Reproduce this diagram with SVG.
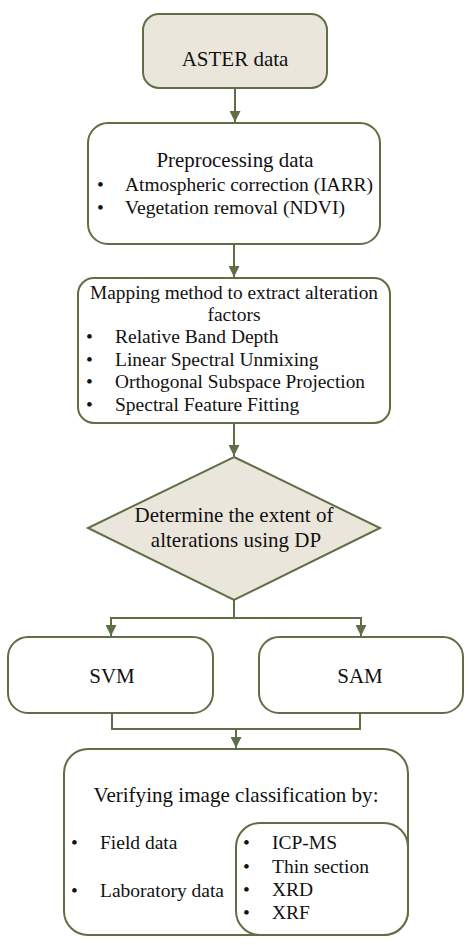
<svg xmlns="http://www.w3.org/2000/svg" width="474" height="945" viewBox="0 0 474 945">
<style>
.b{fill:#fff;stroke:#5f6e45;stroke-width:2}
.f{fill:#ebe6dc;stroke:#5f6e45;stroke-width:2}
.c{fill:none;stroke:#5f6e45;stroke-width:2}
text{font-family:"Liberation Serif","Times New Roman",serif;font-size:19.5px;fill:#111}
.m{text-anchor:middle}
.t{font-size:21px}
</style>
<defs>
<marker id="ah" viewBox="0 0 10 10" refX="10" refY="5" markerWidth="11" markerHeight="11" markerUnits="userSpaceOnUse" orient="auto">
<path d="M0,0 L10,5 L0,10 Z" fill="#5f6e45"/>
</marker>
</defs>
<rect width="474" height="945" fill="#fff"/>
<g id="connectors">
<line class="c" x1="235" y1="88" x2="235" y2="122" marker-end="url(#ah)"/>
<line class="c" x1="234" y1="244" x2="234" y2="277" marker-end="url(#ah)"/>
<line class="c" x1="234" y1="423" x2="234" y2="456" marker-end="url(#ah)"/>
<polyline class="c" points="234,600 234,618 111,618 111,636" marker-end="url(#ah)"/>
<polyline class="c" points="234,618 361,618 361,636" marker-end="url(#ah)"/>
<polyline class="c" points="112,713 112,729 360,729 360,713"/>
<line class="c" x1="236" y1="729" x2="236" y2="748" marker-end="url(#ah)"/>
</g>
<g id="aster">
<rect class="f" x="143" y="14" width="184" height="74" rx="16"/>
<text class="m t" x="235" y="66">ASTER data</text>
</g>
<g id="preprocessing">
<rect class="b" x="88" y="123" width="292" height="121" rx="20"/>
<text class="m t" x="235" y="167" textLength="157" lengthAdjust="spacingAndGlyphs">Preprocessing data</text>
<text x="97" y="191">•</text><text x="125" y="191" textLength="248" lengthAdjust="spacingAndGlyphs">Atmospheric correction (IARR)</text>
<text x="97" y="214">•</text><text x="125" y="214" textLength="220" lengthAdjust="spacingAndGlyphs">Vegetation removal (NDVI)</text>
</g>
<g id="mapping">
<rect class="b" x="78" y="278" width="312" height="145" rx="16"/>
<text class="m" x="234" y="299" textLength="288" lengthAdjust="spacingAndGlyphs">Mapping method to extract alteration</text>
<text class="m" x="234" y="321">factors</text>
<text x="86" y="343">•</text><text x="115" y="343">Relative Band Depth</text>
<text x="86" y="366">•</text><text x="115" y="366">Linear Spectral Unmixing</text>
<text x="86" y="388">•</text><text x="115" y="388" textLength="250" lengthAdjust="spacingAndGlyphs">Orthogonal Subspace Projection</text>
<text x="86" y="411">•</text><text x="115" y="411">Spectral Feature Fitting</text>
</g>
<g id="decision">
<polygon class="f" points="234,457 380,528 234,600 88,528"/>
<text class="m t" x="234" y="522">Determine the extent of</text>
<text class="m t" x="236" y="547">alterations using DP</text>
</g>
<g id="svm">
<rect class="b" x="8" y="637" width="205" height="76" rx="20"/>
<text class="m t" x="112" y="683">SVM</text>
</g>
<g id="sam">
<rect class="b" x="259" y="637" width="204" height="76" rx="20"/>
<text class="m t" x="360" y="683">SAM</text>
</g>
<g id="verify">
<rect class="b" x="64" y="749" width="344" height="186" rx="24"/>
<text class="m t" x="236" y="802" textLength="285" lengthAdjust="spacingAndGlyphs">Verifying image classification by:</text>
<text x="71" y="849">•</text><text x="100" y="849">Field data</text>
<text x="71" y="897">•</text><text x="100" y="897">Laboratory data</text>
</g>
<g id="lab">
<rect class="b" x="236" y="823" width="172" height="112" rx="24"/>
<text x="243" y="849">•</text><text x="272" y="849">ICP-MS</text>
<text x="243" y="873">•</text><text x="272" y="873">Thin section</text>
<text x="243" y="896">•</text><text x="272" y="896">XRD</text>
<text x="243" y="919">•</text><text x="272" y="919">XRF</text>
</g>
</svg>
